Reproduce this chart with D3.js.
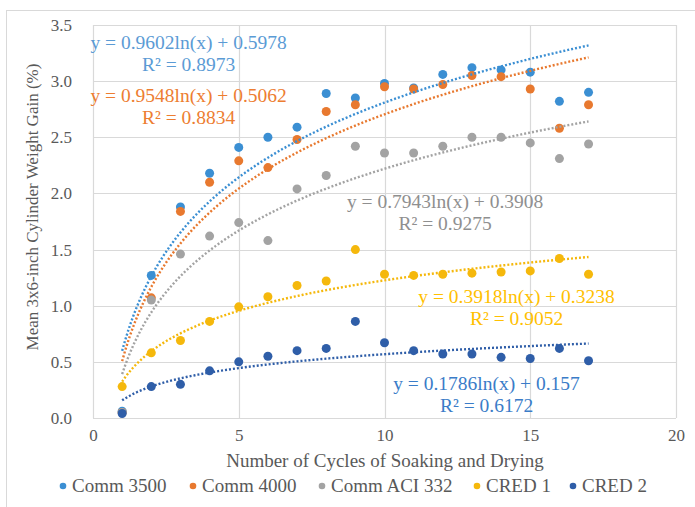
<!DOCTYPE html>
<html>
<head>
<meta charset="utf-8">
<script src="https://cdn.jsdelivr.net/npm/d3@7"></script>
<style>
  body { margin: 0; background: #fff; }
  svg text { font-family: "Liberation Serif", "DejaVu Serif", serif; }
</style>
</head>
<body>
<svg id="chart"></svg>
<script>
// cycles of soaking and drying
var cycles = [1, 2, 3, 4, 5, 6, 7, 8, 9, 10, 11, 12, 13, 14, 15, 16, 17];

// mean weight gain (%) per mix
var comm3500 = [0.06, 1.27, 1.88, 2.18, 2.41, 2.50, 2.59, 2.89, 2.85, 2.98, 2.94, 3.06, 3.12, 3.10, 3.08, 2.82, 2.90];
var comm4000 = [0.05, 1.07, 1.84, 2.10, 2.29, 2.23, 2.48, 2.73, 2.79, 2.95, 2.93, 2.97, 3.05, 3.04, 2.93, 2.58, 2.79];
var commACI = [0.05, 1.05, 1.46, 1.62, 1.74, 1.58, 2.04, 2.16, 2.42, 2.36, 2.36, 2.42, 2.50, 2.50, 2.45, 2.31, 2.44];
var cred1 = [0.28, 0.58, 0.69, 0.86, 0.99, 1.08, 1.18, 1.22, 1.50, 1.28, 1.27, 1.28, 1.29, 1.30, 1.31, 1.42, 1.28];
var cred2 = [0.04, 0.28, 0.30, 0.42, 0.50, 0.55, 0.60, 0.62, 0.86, 0.67, 0.60, 0.57, 0.57, 0.54, 0.53, 0.62, 0.51];

var seriesNames = ["Comm 3500", "Comm 4000", "Comm ACI 332", "CRED 1", "CRED 2"];
var seriesValues = [comm3500, comm4000, commACI, cred1, cred2];

// log trendline coefficients shown on the chart: y = a ln(x) + b
var trendA = [0.9602, 0.9548, 0.7943, 0.3918, 0.1786];
var trendB = [0.5978, 0.5062, 0.3908, 0.3238, 0.157];
var trendR2 = ["0.8973", "0.8834", "0.9275", "0.9052", "0.6172"];
var trendAText = ["0.9602", "0.9548", "0.7943", "0.3918", "0.1786"];
var trendBText = ["0.5978", "0.5062", "0.3908", "0.3238", "0.157"];

var xTicks = [0, 5, 10, 15, 20];
var yTicks = [0, 0.5, 1, 1.5, 2, 2.5, 3, 3.5];

// styling
var FONT = "Liberation Serif, DejaVu Serif, serif";
var colors = ["#3b8fd3", "#e8792f", "#a3a3a3", "#f5b80c", "#2f5ea8"];
var labelColors = ["#5b9bd5", "#ed7d31", "#8f8f8f", "#ffc000", "#3a7cc8"];
// label anchor positions in data units (centre of equation line)
var labelPos = [[3.28, 3.34], [3.28, 2.87], [12.08, 1.92], [14.53, 1.08], [13.5, 0.30]];

var W = 695, H = 507;
var svg = d3.select("#chart").attr("width", W).attr("height", H)
  .attr("font-family", FONT);

// outer chart border
svg.append("rect")
  .attr("x", 6.5).attr("y", 10.5)
  .attr("width", W - 4).attr("height", H - 4)
  .attr("fill", "#fff").attr("stroke", "#d9d9d9");

var x = d3.scaleLinear().domain([0, 20]).range([93, 676]);
var y = d3.scaleLinear().domain([0, 3.5]).range([418, 25]);

// gridlines
svg.append("g").selectAll("line.h")
  .data(yTicks).enter().append("line")
  .attr("x1", x(0)).attr("x2", x(20))
  .attr("y1", function (d) { return Math.round(y(d)) + 0.5; })
  .attr("y2", function (d) { return Math.round(y(d)) + 0.5; })
  .attr("stroke", "#d9d9d9").attr("stroke-width", 1.2);

svg.append("g").selectAll("line.v")
  .data(xTicks).enter().append("line")
  .attr("y1", y(0)).attr("y2", y(3.5))
  .attr("x1", function (d) { return Math.round(x(d)) + 0.5; })
  .attr("x2", function (d) { return Math.round(x(d)) + 0.5; })
  .attr("stroke", "#d9d9d9").attr("stroke-width", 1.2);

// axes (labels only, Excel style)
var xAxis = d3.axisBottom(x).tickValues(xTicks).tickSize(0).tickPadding(11)
  .tickFormat(d3.format("d"));
var gx = svg.append("g").attr("transform", "translate(0," + y(0) + ")").call(xAxis);
gx.attr("font-family", FONT);
gx.select(".domain").remove();
gx.selectAll("text").attr("font-family", FONT).attr("font-size", 17).attr("fill", "#595959");

var yAxis = d3.axisLeft(y).tickValues(yTicks).tickSize(0).tickPadding(21)
  .tickFormat(d3.format(".1f"));
var gy = svg.append("g").attr("transform", "translate(93,0)").call(yAxis);
gy.attr("font-family", FONT);
gy.select(".domain").remove();
gy.selectAll("text").attr("font-family", FONT).attr("font-size", 17).attr("fill", "#595959");

// axis titles
svg.append("text")
  .attr("x", 385).attr("y", 467)
  .attr("text-anchor", "middle")
  .attr("font-family", FONT)
  .attr("font-size", 19).attr("fill", "#595959")
  .text("Number of Cycles of Soaking and Drying");

svg.append("text")
  .attr("transform", "translate(38,207) rotate(-90)")
  .attr("text-anchor", "middle")
  .attr("font-family", FONT)
  .attr("font-size", 17).attr("fill", "#595959")
  .text("Mean 3x6-inch Cylinder Weight Gain (%)");

// points
seriesValues.forEach(function (vals, i) {
  svg.append("g").selectAll("circle")
    .data(vals).enter().append("circle")
    .attr("cx", function (d, j) { return x(cycles[j]); })
    .attr("cy", function (d) { return y(d); })
    .attr("r", 4.5)
    .attr("fill", colors[i]);
});

// trendlines
var line = d3.line()
  .x(function (d) { return x(d[0]); })
  .y(function (d) { return y(d[1]); });

seriesValues.forEach(function (vals, i) {
  var pts = d3.range(1, 17.01, 0.1).map(function (c) {
    return [c, trendA[i] * Math.log(c) + trendB[i]];
  });
  svg.append("path")
    .datum(pts)
    .attr("d", line)
    .attr("fill", "none")
    .attr("stroke", colors[i])
    .attr("stroke-width", 2.4)
    .attr("stroke-dasharray", "2,2");
});

// equation labels
seriesValues.forEach(function (vals, i) {
  var lx = x(labelPos[i][0]), ly = y(labelPos[i][1]);
  var t = svg.append("g").attr("fill", labelColors[i]).attr("font-size", 19.5)
    .attr("font-family", FONT).attr("text-anchor", "middle");
  t.append("text").attr("x", lx).attr("y", ly + 6)
    .text("y = " + trendAText[i] + "ln(x) + " + trendBText[i]);
  t.append("text").attr("x", lx).attr("y", ly + 28)
    .text("R\u00b2 = " + trendR2[i]);
});

// legend
var legendX = [63, 193, 322, 477, 573];
var leg = svg.append("g").attr("font-family", FONT);
seriesNames.forEach(function (name, i) {
  leg.append("circle").attr("cx", legendX[i]).attr("cy", 486).attr("r", 3.3).attr("fill", colors[i]);
  leg.append("text").attr("x", legendX[i] + 9).attr("y", 492)
    .attr("font-size", 19).attr("fill", "#595959").text(name);
});
</script>
</body>
</html>
